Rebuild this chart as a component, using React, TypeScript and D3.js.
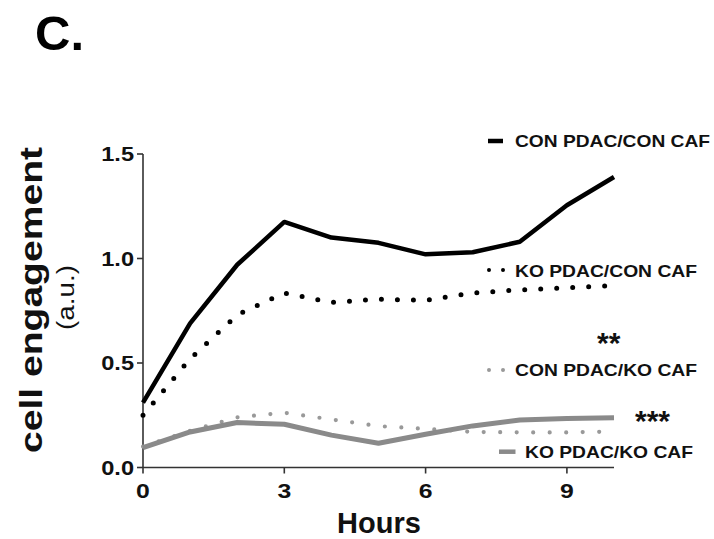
import React from "react";
import * as d3 from "d3";

const hours = [0, 1, 2, 3, 4, 5, 6, 7, 8, 9, 10];
const conPdacConCaf = [0.31, 0.69, 0.97, 1.175, 1.1, 1.075, 1.02, 1.03, 1.08, 1.255, 1.39];
const koPdacConCaf = [0.25, 0.52, 0.73, 0.835, 0.79, 0.805, 0.8, 0.835, 0.85, 0.86, 0.87];
const conPdacKoCaf = [0.1, 0.175, 0.24, 0.262, 0.23, 0.198, 0.185, 0.17, 0.168, 0.168, 0.172];
const koPdacKoCaf = [0.095, 0.17, 0.215, 0.207, 0.155, 0.116, 0.159, 0.199, 0.227, 0.235, 0.238];

const yTicks = [0, 0.5, 1.0, 1.5];
const xTicks = [0, 3, 6, 9];
const legendLabels = ["CON PDAC/CON CAF", "KO PDAC/CON CAF", "CON PDAC/KO CAF", "KO PDAC/KO CAF"];
const sigMarks = ["**", "***"];

const FONT = "'Liberation Sans', Arial, Helvetica, sans-serif";

export default function App() {
  const x = d3.scaleLinear().domain([0, 10]).range([143, 614]);
  const y = d3.scaleLinear().domain([0, 1.5]).range([467.5, 154]);
  const line = d3
    .line<number>()
    .x((_, i) => x(hours[i]))
    .y((d) => y(d));
  const fmt = d3.format(".1f");

  const series = [
    { data: conPdacConCaf, color: "#000", width: 4.5, dash: undefined, cap: "butt" },
    { data: koPdacConCaf, color: "#000", width: 5, dash: "0 16", cap: "round" },
    { data: conPdacKoCaf, color: "#999", width: 4.2, dash: "0 16.5", cap: "round" },
    { data: koPdacKoCaf, color: "#8a8a8a", width: 5, dash: undefined, cap: "butt" },
  ];

  const legend = [
    { label: legendLabels[0], ty: 147.3, tx: 515, len: 195, sw: { x1: 488, x2: 503, y: 141, color: "#000", w: 4.5, dash: undefined } },
    { label: legendLabels[1], ty: 276.7, tx: 515, len: 182, sw: { x1: 489, x2: 503.5, y: 270, color: "#000", w: 4, dash: "0 14" } },
    { label: legendLabels[2], ty: 376, tx: 515, len: 182, sw: { x1: 489, x2: 503.5, y: 370, color: "#999", w: 4, dash: "0 14" } },
    { label: legendLabels[3], ty: 458.3, tx: 525, len: 168, sw: { x1: 499, x2: 515.5, y: 451.7, color: "#8a8a8a", w: 4.5, dash: undefined } },
  ];

  return (
    <svg
      width={714}
      height={539}
      style={{ position: "absolute", left: 0, top: 0, background: "#fff" }}
      fontFamily={FONT}
    >
      <rect width={714} height={539} fill="#fff" />
      <text x={35} y={50} fontSize={49} fontWeight="bold" fill="#000">
        C.
      </text>

      {/* axes */}
      <line x1={x(0)} x2={x(0)} y1={y(1.5)} y2={y(0)} stroke="#333" strokeWidth={1.6} />
      <line x1={x(0)} x2={x(10)} y1={y(0)} y2={y(0)} stroke="#333" strokeWidth={1.6} />
      {yTicks.map((t) => (
        <g key={"y" + t}>
          <line x1={x(0) - 6} x2={x(0)} y1={y(t)} y2={y(t)} stroke="#333" strokeWidth={1.6} />
          <text
            transform={`translate(134,${y(t) + 7}) scale(1.18,1)`}
            textAnchor="end"
            fontSize={20}
            fontWeight="bold"
            fill="#111"
          >
            {fmt(t)}
          </text>
        </g>
      ))}
      {xTicks.map((t) => (
        <g key={"x" + t}>
          <line x1={x(t)} x2={x(t)} y1={y(0)} y2={y(0) + 6} stroke="#333" strokeWidth={1.6} />
          <text
            transform={`translate(${x(t)},498) scale(1.18,1)`}
            textAnchor="middle"
            fontSize={21}
            fontWeight="bold"
            fill="#111"
          >
            {t}
          </text>
        </g>
      ))}

      <text x={379} y={533} textAnchor="middle" fontSize={29} fontWeight="bold" fill="#111">
        Hours
      </text>
      <text
        transform="translate(42,300) rotate(-90)"
        textAnchor="middle"
        fontSize={31}
        fontWeight="bold"
        textLength={306}
        lengthAdjust="spacingAndGlyphs"
        fill="#111"
      >
        cell engagement
      </text>
      <text
        transform="translate(74,297.5) rotate(-90)"
        textAnchor="middle"
        fontSize={23}
        textLength={65}
        lengthAdjust="spacingAndGlyphs"
        fill="#111"
      >
        (a.u.)
      </text>

      {/* series */}
      {series.map((s, i) => (
        <path
          key={i}
          d={line(s.data) || ""}
          fill="none"
          stroke={s.color}
          strokeWidth={s.width}
          strokeDasharray={s.dash}
          strokeLinecap={s.cap as any}
          strokeLinejoin="round"
        />
      ))}

      {/* legend */}
      {legend.map((l, i) => (
        <g key={i}>
          <line
            x1={l.sw.x1}
            x2={l.sw.x2}
            y1={l.sw.y}
            y2={l.sw.y}
            stroke={l.sw.color}
            strokeWidth={l.sw.w}
            strokeDasharray={l.sw.dash}
            strokeLinecap={l.sw.dash ? "round" : "butt"}
          />
          <text
            x={l.tx}
            y={l.ty}
            fontSize={17}
            fontWeight="bold"
            textLength={l.len}
            lengthAdjust="spacingAndGlyphs"
            fill="#111"
          >
            {l.label}
          </text>
        </g>
      ))}

      <text x={597} y={353} fontSize={30} fontWeight="bold" fill="#111">
        {sigMarks[0]}
      </text>
      <text x={635} y={430.8} fontSize={30} fontWeight="bold" fill="#111">
        {sigMarks[1]}
      </text>
    </svg>
  );
}
